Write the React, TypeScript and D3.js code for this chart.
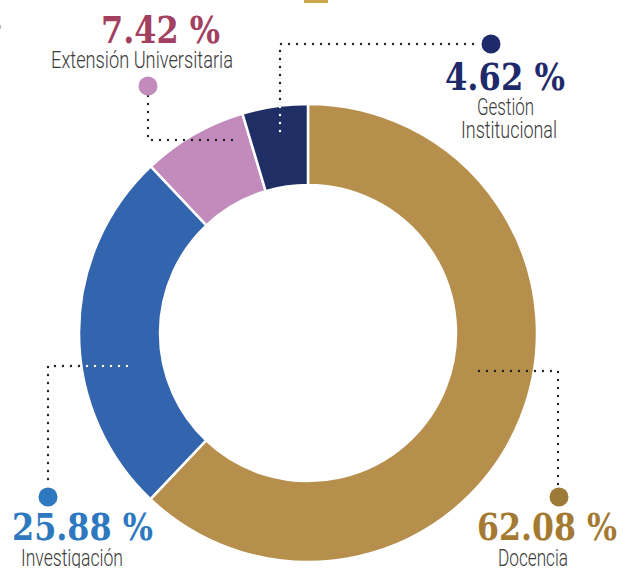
import React from "react";
import * as d3 from "d3";

// ---- data ----
const categories = ["Docencia", "Investigación", "Extensión Universitaria", "Gestión Institucional"];
const values = [62.08, 25.88, 7.42, 4.62];
const valueLabels = ["62.08 %", "25.88 %", "7.42 %", "4.62 %"];
const nameLines = [["Docencia"], ["Investigación"], ["Extensión Universitaria"], ["Gestión", "Institucional"]];
const sliceColors = ["#b78f4d", "#3364ae", "#c38abc", "#1f2f66"];
const textColors = ["#a47a33", "#2e78c0", "#a3405f", "#1f2a6b"];
const dotColors = ["#9e7a38", "#2e78c0", "#c38abc", "#1f2a6b"];

// ---- layout ----
const W = 623;
const H = 568;
const cx = 308;
const cy = 333;
const rOuter = 229;
const rInner = 148;

type Ann = {
  dot: [number, number];
  path: [number, number][];
  whiteOnSlice: boolean;
  valueX: number;
  valueY: number;
  valueW: number;
  lines: { x: number; y: number; w: number }[];
};

const annotations: Ann[] = [
  {
    dot: [559, 497],
    path: [[479, 371], [558, 371], [558, 487]],
    whiteOnSlice: false,
    valueX: 547,
    valueY: 540,
    valueW: 140,
    lines: [{ x: 533, y: 566, w: 70 }],
  },
  {
    dot: [48, 497],
    path: [[127, 366], [48, 366], [48, 484]],
    whiteOnSlice: true,
    valueX: 82.5,
    valueY: 540,
    valueW: 141,
    lines: [{ x: 72, y: 566, w: 102 }],
  },
  {
    dot: [148, 86],
    path: [[148, 96], [148, 140], [233, 140]],
    whiteOnSlice: false,
    valueX: 160.5,
    valueY: 43,
    valueW: 119,
    lines: [{ x: 142, y: 68, w: 182 }],
  },
  {
    dot: [491, 44],
    path: [[280, 131], [280, 44], [481, 44]],
    whiteOnSlice: true,
    valueX: 505,
    valueY: 90,
    valueW: 120,
    lines: [
      { x: 505.5, y: 115, w: 57 },
      { x: 509, y: 138, w: 96 },
    ],
  },
];

export default function App() {
  const pie = d3
    .pie<number>()
    .sort(null)
    .value((d) => d)
    .startAngle(0)
    .endAngle(2 * Math.PI);
  const arcs = pie(values);
  const arcGen = d3.arc<d3.PieArcDatum<number>>().innerRadius(rInner).outerRadius(rOuter);
  const line = d3.line<[number, number]>();

  return (
    <svg
      width={W}
      height={H}
      style={{ position: "absolute", left: 0, top: 0, background: "#fff" }}
    >
      <defs>
        {arcs.map((a, i) => (
          <clipPath id={`clip-${i}`} key={i}>
            <path d={arcGen(a) || ""} transform={`translate(${cx},${cy})`} />
          </clipPath>
        ))}
      </defs>
      <rect x={304} y={0} width={24} height={3} fill="#c9a74a" />
      <rect x={0} y={25} width={1} height={4} fill="#bbb" />
      <g transform={`translate(${cx},${cy})`}>
        {arcs.map((a, i) => (
          <path
            key={categories[i]}
            d={arcGen(a) || ""}
            fill={sliceColors[i]}
            stroke="#fff"
            strokeWidth={2.5}
            strokeLinejoin="round"
          />
        ))}
      </g>
      {annotations.map((ann, i) => (
        <g key={i}>
          <path
            d={line(ann.path) || ""}
            fill="none"
            stroke="#222"
            strokeWidth={2.4}
            strokeLinecap="round"
            strokeDasharray="0 8"
          />
          {ann.whiteOnSlice && (
            <path
              d={line(ann.path) || ""}
              fill="none"
              stroke="#fff"
              strokeWidth={2.4}
              strokeLinecap="round"
              strokeDasharray="0 8"
              clipPath={`url(#clip-${i})`}
            />
          )}
          <circle cx={ann.dot[0]} cy={ann.dot[1]} r={9.5} fill={dotColors[i]} />
          <text
            x={ann.valueX}
            y={ann.valueY}
            textAnchor="middle"
            fontFamily="'DejaVu Serif', 'Liberation Serif', serif"
            fontWeight={700}
            fontSize={37}
            fill={textColors[i]}
            textLength={ann.valueW}
            lengthAdjust="spacingAndGlyphs"
          >
            {valueLabels[i]}
          </text>
          {ann.lines.map((l, j) => (
            <text
              key={j}
              x={l.x}
              y={l.y}
              textAnchor="middle"
              fontFamily="Roboto, 'Noto Sans', sans-serif"
              fontWeight={300}
              fontSize={23}
              fill="#3a3a3a"
              textLength={l.w}
              lengthAdjust="spacingAndGlyphs"
            >
              {nameLines[i][j]}
            </text>
          ))}
        </g>
      ))}
    </svg>
  );
}
